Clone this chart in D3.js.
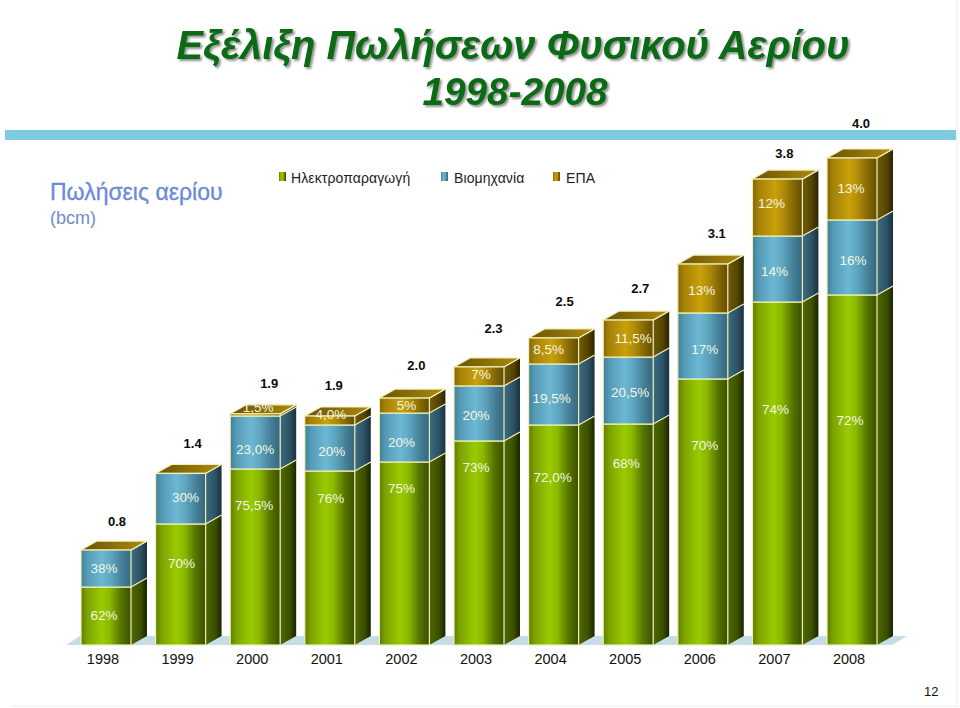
<!DOCTYPE html>
<html lang="el">
<head>
<meta charset="utf-8">
<script src="https://cdn.jsdelivr.net/npm/d3@7"></script>
<style>
html,body{margin:0;padding:0;background:#fff;overflow:hidden}
svg{display:block}
text{font-family:"Liberation Sans",Arial,sans-serif}
.title{font-weight:bold;font-style:italic;fill:#0b6a14;text-anchor:middle;filter:drop-shadow(2px 2px 1.2px rgba(110,110,110,.75))}
.pct{font-size:13.5px;fill:#f3f6e2;text-anchor:middle;dominant-baseline:central}
.tot{font-size:13px;font-weight:bold;fill:#0a0a0a;text-anchor:middle;dominant-baseline:central}
.leg{font-size:14px;fill:#222;letter-spacing:.1px;dominant-baseline:central}
.tick text{font-family:"Liberation Sans",Arial,sans-serif;font-size:14.5px;fill:#111}
</style>
</head>
<body>
<div id="chart"></div>
<script>
// ---------- data ----------
const years = ["1998","1999","2000","2001","2002","2003","2004","2005","2006","2007","2008"];
const seriesNames = ["Ηλεκτροπαραγωγή","Βιομηχανία","ΕΠΑ"];
// bcm
const power    = [0.476,0.994,1.446,1.429,1.503,1.676,1.807,1.815,2.185,2.817,2.875];
const industry = [0.304,0.415,0.435,0.378,0.402,0.452,0.501,0.550,0.542,0.542,0.616];
const epa      = [0,0,0.018,0.074,0.123,0.156,0.214,0.304,0.402,0.468,0.509];
const totalLabels    = ["0.8","1.4","1.9","1.9","2.0","2.3","2.5","2.7","3.1","3.8","4.0"];
const powerLabels    = ["62%","70%","75,5%","76%","75%","73%","72,0%","68%","70%","74%","72%"];
const industryLabels = ["38%","30%","23,0%","20%","20%","20%","19,5%","20,5%","17%","14%","16%"];
const epaLabels      = ["","","1,5%","4,0%","5%","7%","8,5%","11,5%","13%","12%","13%"];

// ---------- label nudges (layout only) ----------
const nudgePower    = [[-2,-1],[1,-21],[-1,-51],[1,-60],[-3,-65],[-3,-75],[-1,-57],[-2,-71],[2,-66],[-2,-64],[-2,-49]];
const nudgeIndustry = [[-2,0],[5,-1],[0,7],[2,3],[-3,5],[-3,2],[-2,4],[2,2],[2,4],[-3,2],[1,3]];
const nudgeEpa      = [[0,0],[0,0],[3,-7],[1,-5.5],[2,0],[2,-2],[-5,-1],[5,0],[-1,2],[-6,-4],[-1,0]];
const nudgeTotal    = [[11,-29],[12,-30],[14,-30],[4,-30],[12,-33],[14.5,-38],[11,-36],[12,-32],[14,-31],[7,-26],[9,-35]];
const nudges = [nudgePower,nudgeIndustry,nudgeEpa];
const labels = [powerLabels,industryLabels,epaLabels];

// ---------- scaffolding ----------
const W = 960, H = 708, depthX = 16, depthY = 9;
const svg = d3.select("#chart").append("svg").attr("width",W).attr("height",H);
const defs = svg.append("defs");

const x = d3.scaleBand().domain(years).range([81,877]).paddingInner(0.33);
const y = d3.scaleLinear().domain([0,4]).range([645,158]);

const rows = years.map((yr,i)=>({year:yr,0:power[i],1:industry[i],2:epa[i]}));
const stacked = d3.stack().keys([0,1,2])(rows);

const frontStops = [
  [["0","#5f7c00"],["0.12","#7da200"],["0.42","#98cb00"],["0.58","#8ab800"],["0.8","#567400"],["1","#395000"]],
  [["0","#3f7f98"],["0.12","#549ab5"],["0.42","#6cb8d3"],["0.6","#5fa5bf"],["0.82","#447f98"],["1","#35677c"]],
  [["0","#846606"],["0.12","#a58208"],["0.45","#c9a00a"],["0.62","#b08c08"],["0.82","#856805"],["1","#624c03"]]
];
const sideStops = [
  [["0","#4f6800"],["0.6","#3c5000"],["1","#1a2400"]],
  [["0","#3c6d82"],["0.6","#2c5264"],["1","#183040"]],
  [["0","#6f5b08"],["0.6","#544403"],["1","#2a2200"]]
];
function grad(id,stops){
  const g = defs.append("linearGradient").attr("id",id).attr("x1",0).attr("x2",1).attr("y1",0).attr("y2",0);
  stops.forEach(s=>g.append("stop").attr("offset",s[0]).attr("stop-color",s[1]));
}
frontStops.forEach((s,i)=>grad("front"+i,s));
sideStops.forEach((s,i)=>grad("side"+i,s));
grad("topFace",[["0","#6a5206"],["0.55","#8f7209"],["1","#ad8c10"]]);

// page edges
svg.append("line").attr("x1",957).attr("x2",957).attr("y1",0).attr("y2",706).attr("stroke","#ececec");
svg.append("line").attr("x1",12).attr("x2",957).attr("y1",706).attr("y2",706).attr("stroke","#ececec");

// title
svg.append("text").attr("class","title").attr("x",513).attr("y",59).attr("font-size",39.8).text("Εξέλιξη Πωλήσεων Φυσικού Αερίου");
svg.append("text").attr("class","title").attr("x",515).attr("y",105).attr("font-size",38.7).text("1998-2008");

// band
svg.append("rect").attr("x",5).attr("y",130).attr("width",951).attr("height",10).attr("fill","#7fcbe3");

// left caption
svg.append("text").attr("x",50).attr("y",200).attr("font-size",23).attr("fill","#6d8ad6")
   .attr("stroke","#6d8ad6").attr("stroke-width",.35).text("Πωλήσεις αερίου");
svg.append("text").attr("x",50).attr("y",224).attr("font-size",18).attr("fill","#7189cf").text("(bcm)");

// legend
const legX = [279,441,553];
const leg = svg.append("g").selectAll("g").data(seriesNames).join("g")
  .attr("transform",(d,i)=>`translate(${legX[i]},172)`);
leg.append("rect").attr("width",7).attr("height",9).attr("fill",(d,i)=>`url(#front${i})`);
leg.append("text").attr("class","leg").attr("x",(d,i)=>i==0?12:13).attr("y",6)
   .attr("letter-spacing",(d,i)=>i==2?".5px":"0").text(d=>d);

// floor
const x0 = x(years[0]), xN = x(years[years.length-1])+x.bandwidth();
svg.append("path").attr("fill","#c6dde6")
  .attr("d",d3.line()([[x0-15,y(0)],[x0-1,y(0)-depthY],[xN+30,y(0)-depthY],[xN+15,y(0)]])+"Z");

// bars
const edge = "#f1efb6";
const bars = svg.append("g").selectAll("g").data(years).join("g");
bars.each(function(yr,i){
  const g = d3.select(this), bx = x(yr), bw = x.bandwidth();
  stacked.forEach((layer,k)=>{
    const y0 = y(layer[i][0]), y1 = y(layer[i][1]);
    if (y0-y1 <= 0) return;
    g.append("path").attr("fill",`url(#side${k})`)
      .attr("d",d3.line()([[bx+bw,y0],[bx+bw+depthX,y0-depthY],[bx+bw+depthX,y1-depthY],[bx+bw,y1]])+"Z");
    if (k>0) g.append("path").attr("fill","none").attr("stroke",edge).attr("stroke-width",1.2)
      .attr("d",d3.line()([[bx+bw,y0],[bx+bw+depthX,y0-depthY]]));
  });
  const yt = y(stacked[2][i][1]);
  g.append("path").attr("fill","url(#topFace)").attr("stroke",edge).attr("stroke-width",1.2)
    .attr("d",d3.line()([[bx,yt],[bx+depthX,yt-depthY],[bx+bw+depthX,yt-depthY],[bx+bw,yt]])+"Z");
  stacked.forEach((layer,k)=>{
    const y0 = y(layer[i][0]), y1 = y(layer[i][1]);
    if (y0-y1 <= 0) return;
    g.append("rect").attr("x",bx).attr("y",y1).attr("width",bw).attr("height",y0-y1)
      .attr("fill",`url(#front${k})`).attr("stroke",edge).attr("stroke-width",1.2);
  });
  g.append("path").attr("fill","none").attr("stroke",edge).attr("stroke-width",1)
    .attr("d",d3.line()([[bx+bw,yt],[bx+bw+depthX,yt-depthY]]));
});

// percentage labels
stacked.forEach((layer,k)=>{
  svg.append("g").selectAll("text").data(layer).join("text").attr("class","pct")
    .attr("x",(d,i)=>x(years[i])+x.bandwidth()/2+nudges[k][i][0])
    .attr("y",(d,i)=>(y(d[0])+y(d[1]))/2+nudges[k][i][1])
    .text((d,i)=>labels[k][i]);
});

// totals
svg.append("g").selectAll("text").data(stacked[2]).join("text").attr("class","tot")
  .attr("x",(d,i)=>x(years[i])+x.bandwidth()/2+nudgeTotal[i][0])
  .attr("y",(d,i)=>y(d[1])+nudgeTotal[i][1])
  .text((d,i)=>totalLabels[i]);

// x axis
const ax = svg.append("g").attr("transform",`translate(-3,${y(0)})`)
  .call(d3.axisBottom(x).tickSize(0).tickPadding(9));
ax.select(".domain").remove();

// page number
svg.append("text").attr("x",924).attr("y",696).attr("font-size",13).attr("fill","#111").text("12");
</script>
</body>
</html>
